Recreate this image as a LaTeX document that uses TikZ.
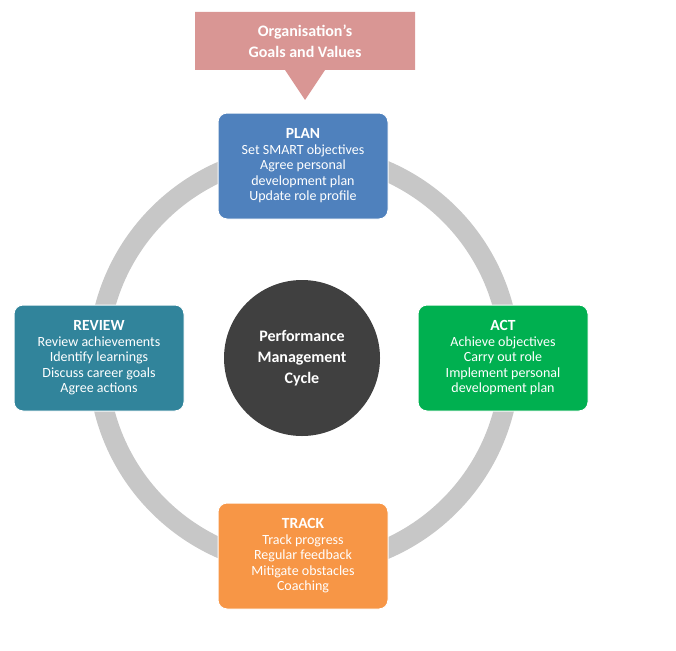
\documentclass[tikz,border=0pt]{standalone}
\usepackage{fontspec}
\setmainfont{Carlito}
\begin{document}
\begin{tikzpicture}[x=1pt,y=-1pt,
 card/.style={draw=white,line width=1pt,rounded corners=9pt,minimum width=170pt,minimum height=106pt,align=center,text=white,font=\fontsize{14}{15.5}\selectfont,inner sep=2pt},
 ttl/.style={font=\bfseries\fontsize{15.5}{17}\selectfont}]
\useasboundingbox (0,0) rectangle (676,650);
\draw[line width=20pt,color=black!22] (304,360) circle (206);
\fill[color=red!35!pink!90!gray,fill={rgb,255:red,217;green,150;blue,148}] (195,12) rectangle (415,70) (285,70) -- (325,70) -- (305,100) -- cycle;
\node[text=white,align=center,font=\bfseries\fontsize{16}{21}\selectfont] (goals) at (305,41) {Organisation’s\\Goals and Values};
\node[circle,fill={rgb,255:red,64;green,64;blue,64},minimum size=156pt,text=white,align=center,font=\bfseries\fontsize{16}{21}\selectfont] (c) at (302,358) {Performance\\Management\\Cycle};
\node[card,fill={rgb,255:red,79;green,129;blue,189}] (plan) at (303,166) {{\normalfont\bfseries\fontsize{15.5}{17}\selectfont PLAN}\\Set SMART objectives\\Agree personal\\development plan\\Update role profile};
\node[card,fill={rgb,255:red,49;green,132;blue,155}] (review) at (99,358) {{\bfseries\fontsize{15.5}{17}\selectfont REVIEW}\\Review achievements\\Identify learnings\\Discuss career goals\\Agree actions};
\node[card,fill={rgb,255:red,0;green,176;blue,80}] (act) at (503,358) {{\bfseries\fontsize{15.5}{17}\selectfont ACT}\\Achieve objectives\\Carry out role\\Implement personal\\development plan};
\node[card,fill={rgb,255:red,247;green,150;blue,70}] (track) at (303,556) {{\bfseries\fontsize{15.5}{17}\selectfont TRACK}\\Track progress\\Regular feedback\\Mitigate obstacles\\Coaching};
\end{tikzpicture}
\end{document}
